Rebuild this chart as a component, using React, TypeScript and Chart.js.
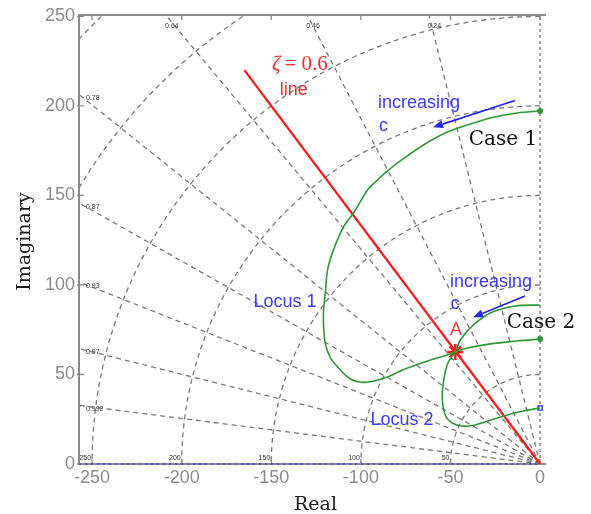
import React, { useEffect, useRef } from "react";
import { Chart, registerables } from "chart.js";

Chart.register(...registerables);

// ---- axes ----
const X_MIN = -257.3;
const X_MAX = 3.3;
const Y_MIN = 0;
const Y_MAX = 250.8;
const xTicks = [-250, -200, -150, -100, -50, 0];
const yTicks = [0, 50, 100, 150, 200, 250];

// ---- s-plane grid (damping ratios / natural frequencies) ----
const zetaValues = [0.24, 0.46, 0.64, 0.78, 0.87, 0.93, 0.97, 0.992];
const zetaLabels = ["0.24", "0.46", "0.64", "0.78", "0.87", "0.93", "0.97", "0.992"];
const wnValues = [50, 100, 150, 200, 250, 300, 350];
const wnLabels = ["50", "100", "150", "200", "250", "300", "350"];

// ---- Locus 1 (Case 1) ----
const case1Re = [0, -12.8, -27.8, -40.6, -51.8, -65.1, -75.9, -84.6, -90.7, -96.3, -104.1, -109.7, -115.3, -118.6, -119.7, -120.8, -120.8, -119.7, -116.9, -113.0, -107.5, -101.9, -94.7, -85.2, -78.0, -72.4, -61.2, -51.8, -47.3, -40.6, -27.8, -12.8, 0];
const case1Im = [197.2, 196.1, 193.3, 189.4, 185.4, 178.2, 170.8, 164.2, 158.7, 153.1, 140.2, 132.4, 119.6, 108.4, 97.2, 86.1, 76.5, 66.5, 59.2, 54.2, 48.6, 45.9, 45.9, 48.6, 52.0, 54.2, 58.1, 60.9, 62.6, 64.8, 67.1, 68.7, 69.8];

// ---- Locus 2 (Case 2) ----
const case2Re = [0, -13.9, -27.8, -37.3, -44.5, -47.3, -51.2, -53.5, -54.6, -52.9, -49.0, -43.4, -36.2, -23.9, -9.5, 0];
const case2Im = [88.8, 88.3, 84.4, 77.6, 69.3, 62.6, 57.0, 48.6, 37.4, 27.4, 22.9, 21.2, 21.8, 25.7, 29.6, 31.3];

// ---- zeta = 0.6 line and point A ----
const zetaLineRe = [-165, 0];
const zetaLineIm = [220, 0];
const pointARe = [-47.3];
const pointAIm = [62.6];

// ---- real-axis locus ----
const realAxisRe = [X_MIN, 0];
const realAxisIm = [0, 0];

// ---- annotations ----
const texts = [
  { t: "line", x: -137.4, y: 208.7, color: "#ff2a2a", font: "18px 'Liberation Sans'", align: "center" },
  { t: "increasing", x: -90.5, y: 201.5, color: "#3b3bff", font: "18px 'Liberation Sans'", align: "left" },
  { t: "c", x: -89.9, y: 188.6, color: "#3b3bff", font: "18px 'Liberation Sans'", align: "left" },
  { t: "Case 1", x: -20.7, y: 181.1, color: "#111111", font: "20px 'DejaVu Serif'", align: "center" },
  { t: "increasing", x: -50.3, y: 101.6, color: "#3b3bff", font: "18px 'Liberation Sans'", align: "left" },
  { t: "c", x: -47.5, y: 89.3, color: "#3b3bff", font: "18px 'Liberation Sans'", align: "center" },
  { t: "Case 2", x: 0.5, y: 78.7, color: "#111111", font: "20px 'DejaVu Serif'", align: "center" },
  { t: "A", x: -46.9, y: 74.8, color: "#ff3a3a", font: "18px 'Liberation Sans'", align: "center" },
  { t: "Locus 1", x: -142.4, y: 90.4, color: "#3b3bff", font: "18px 'Liberation Sans'", align: "center" },
  { t: "Locus 2", x: -77.1, y: 24.6, color: "#3b3bff", font: "18px 'Liberation Sans'", align: "center" },
];
const arrows = [
  { x1: -14, y1: 203.1, x2: -59.7, y2: 188.1 },
  { x1: -8.4, y1: 93.8, x2: -37.4, y2: 82.0 },
];
const zetaTextPos = { x: -149.6, y: 223.2 };

const GRID_COLOR = "#7a7a7a";
const AXIS_COLOR = "#8a8a8a";

const gridPlugin = {
  id: "sgrid",
  beforeDatasetsDraw(chart: any) {
    const { ctx, chartArea: a, scales } = chart;
    const xs = scales.x;
    const ys = scales.y;
    const X = (v: number) => xs.getPixelForValue(v);
    const Y = (v: number) => ys.getPixelForValue(v);
    ctx.save();
    ctx.beginPath();
    ctx.rect(a.left, a.top, a.right - a.left, a.bottom - a.top);
    ctx.clip();
    ctx.strokeStyle = GRID_COLOR;
    ctx.lineWidth = 1.3;
    ctx.setLineDash([5, 4]);
    const x0 = X(0);
    const y0 = Y(0);
    zetaValues.forEach((z) => {
      const th = Math.acos(z);
      const R = 450;
      ctx.beginPath();
      ctx.moveTo(x0, y0);
      ctx.lineTo(X(-R * Math.cos(th)), Y(R * Math.sin(th)));
      ctx.stroke();
    });
    wnValues.forEach((r) => {
      ctx.beginPath();
      for (let i = 0; i <= 180; i++) {
        const t = Math.PI / 2 + (i * Math.PI) / 360;
        const px = X(r * Math.cos(t));
        const py = Y(r * Math.sin(t));
        if (i === 0) ctx.moveTo(px, py);
        else ctx.lineTo(px, py);
      }
      ctx.stroke();
    });
    // imaginary axis
    ctx.setLineDash([3, 3]);
    ctx.beginPath();
    ctx.moveTo(x0, y0);
    ctx.lineTo(x0, a.top);
    ctx.stroke();
    ctx.restore();

    // small grid labels
    ctx.save();
    ctx.setLineDash([]);
    ctx.font = "7px 'Liberation Sans'";
    ctx.fillStyle = "#333333";
    ctx.textBaseline = "middle";
    zetaValues.forEach((z, i) => {
      const th = Math.acos(z);
      const yAtLeft = -X_MIN * Math.tan(th);
      if (yAtLeft < 245) {
        ctx.textAlign = "left";
        ctx.fillText(zetaLabels[i], a.left + 7, Y(yAtLeft) + 4);
      } else {
        const xAtTop = -250 / Math.tan(th);
        ctx.textAlign = "center";
        ctx.fillText(zetaLabels[i], X(xAtTop) + 5, a.top + 11);
      }
    });
    ctx.textAlign = "right";
    wnValues.forEach((w, i) => {
      if (-w >= X_MIN) ctx.fillText(wnLabels[i], X(-w) - 1, a.bottom - 6);
    });
    ctx.restore();

    // frame with inward ticks
    ctx.save();
    ctx.strokeStyle = AXIS_COLOR;
    ctx.lineWidth = 2;
    ctx.beginPath();
    ctx.moveTo(a.right, a.top);
    ctx.lineTo(a.left, a.top);
    ctx.lineTo(a.left, a.bottom);
    ctx.lineTo(a.right, a.bottom);
    ctx.stroke();
    ctx.lineWidth = 1.3;
    ctx.beginPath();
    xTicks.forEach((v) => {
      const px = X(v);
      ctx.moveTo(px, a.bottom);
      ctx.lineTo(px, a.bottom - 5);
      ctx.moveTo(px, a.top);
      ctx.lineTo(px, a.top + 5);
    });
    yTicks.forEach((v) => {
      const py = Y(v);
      ctx.moveTo(a.left - 2, py);
      ctx.lineTo(a.left + 5, py);
    });
    ctx.stroke();
    ctx.restore();
  },
  afterDatasetsDraw(chart: any) {
    const { ctx, chartArea: a, scales } = chart;
    const xs = scales.x;
    const ys = scales.y;
    const X = (v: number) => xs.getPixelForValue(v);
    const Y = (v: number) => ys.getPixelForValue(v);
    ctx.save();
    ctx.textBaseline = "middle";
    texts.forEach((tx) => {
      ctx.font = tx.font;
      ctx.fillStyle = tx.color;
      ctx.textAlign = tx.align;
      ctx.fillText(tx.t, X(tx.x), Y(tx.y));
    });
    // zeta = 0.6
    ctx.fillStyle = "#ff2a2a";
    ctx.textAlign = "left";
    ctx.font = "italic 21px 'Liberation Serif'";
    const zx = X(zetaTextPos.x);
    const zy = Y(zetaTextPos.y);
    ctx.fillText("\u03B6", zx, zy);
    const w = ctx.measureText("\u03B6").width;
    ctx.font = "21px 'Liberation Serif'";
    ctx.fillText("= 0.6", zx + w + 4, zy);

    // arrows
    ctx.strokeStyle = "#2323ff";
    ctx.fillStyle = "#2323ff";
    ctx.lineWidth = 1.6;
    arrows.forEach((ar) => {
      const x1 = X(ar.x1), y1 = Y(ar.y1), x2 = X(ar.x2), y2 = Y(ar.y2);
      const ang = Math.atan2(y2 - y1, x2 - x1);
      const L = 10, W = 4;
      const bx = x2 - L * Math.cos(ang), by = y2 - L * Math.sin(ang);
      ctx.beginPath();
      ctx.moveTo(x1, y1);
      ctx.lineTo(bx, by);
      ctx.stroke();
      ctx.beginPath();
      ctx.moveTo(x2, y2);
      ctx.lineTo(bx + W * Math.sin(ang), by - W * Math.cos(ang));
      ctx.lineTo(bx - W * Math.sin(ang), by + W * Math.cos(ang));
      ctx.closePath();
      ctx.fill();
    });

    // axis titles
    ctx.fillStyle = "#1a1a1a";
    ctx.font = "19px 'DejaVu Serif'";
    ctx.textAlign = "center";
    ctx.fillText("Real", (a.left + a.right) / 2 + 3, 505);
    ctx.save();
    ctx.translate(25, (a.top + a.bottom) / 2 + 2);
    ctx.rotate(-Math.PI / 2);
    ctx.fillText("Imaginary", 0, 0);
    ctx.restore();
    ctx.restore();
  },
};

const pts = (re: number[], im: number[]) => re.map((r, i) => ({ x: r, y: im[i] }));

export default function App() {
  const ref = useRef<HTMLCanvasElement | null>(null);
  useEffect(() => {
    if (!ref.current) return;
    const n1 = case1Re.length;
    const chart = new Chart(ref.current, {
      type: "scatter",
      data: {
        datasets: [
          {
            data: pts(realAxisRe, realAxisIm),
            showLine: true,
            borderColor: "#2a3cff",
            borderWidth: 1.6,
            borderDash: [2, 4],
            pointRadius: 0,
            clip: 4,
          } as any,
          {
            data: pts(case1Re, case1Im),
            showLine: true,
            borderColor: "#2e9a36",
            borderWidth: 1.6,
            tension: 0.3,
            pointRadius: case1Re.map((_, i) => (i === 0 || i === n1 - 1 ? 2.2 : 0)),
            pointBackgroundColor: "#2e9a36",
            pointBorderColor: "#2e9a36",
            clip: 4,
          },
          {
            data: pts(case2Re, case2Im),
            showLine: true,
            borderColor: "#2e9a36",
            borderWidth: 1.6,
            tension: 0.3,
            pointRadius: 0,
            clip: 4,
          },
          {
            data: pts([case2Re[case2Re.length - 1]], [case2Im[case2Im.length - 1]]),
            pointStyle: "rect",
            pointRadius: 3,
            pointBorderColor: "#1f2fff",
            pointBackgroundColor: "#ffffff",
            pointBorderWidth: 1.3,
            clip: 6,
          },
          {
            data: pts(zetaLineRe, zetaLineIm),
            showLine: true,
            borderColor: "#ff1a1a",
            borderWidth: 2.3,
            pointRadius: 0,
          },
          {
            data: pts(pointARe, pointAIm),
            pointStyle: "star",
            pointRadius: 8,
            pointBorderColor: "#ff1a1a",
            pointBorderWidth: 2.5,
            pointBackgroundColor: "#ff1a1a",
          },
        ],
      },
      options: {
        responsive: false,
        animation: false,
        devicePixelRatio: 1,
        events: [],
        layout: { padding: { left: 0, top: 15, right: 45, bottom: 0 } },
        plugins: { legend: { display: false }, tooltip: { enabled: false }, title: { display: false } },
        scales: {
          x: {
            type: "linear",
            min: X_MIN,
            max: X_MAX,
            grid: { display: false, drawTicks: false },
            border: { display: false },
            afterBuildTicks: (s: any) => {
              s.ticks = xTicks.map((v) => ({ value: v }));
            },
            afterFit: (s: any) => {
              s.height = 50;
            },
            ticks: {
              color: "#8c8c8c",
              font: { family: "'Liberation Sans'", size: 18 },
              padding: 3,
              maxRotation: 0,
              autoSkip: false,
            },
          },
          y: {
            type: "linear",
            min: Y_MIN,
            max: Y_MAX,
            grid: { display: false, drawTicks: false },
            border: { display: false },
            afterBuildTicks: (s: any) => {
              s.ticks = yTicks.map((v) => ({ value: v }));
            },
            afterFit: (s: any) => {
              s.width = 79;
            },
            ticks: {
              color: "#8c8c8c",
              font: { family: "'Liberation Sans'", size: 18 },
              padding: 4,
              autoSkip: false,
            },
          },
        },
      },
      plugins: [gridPlugin],
    } as any);
    return () => chart.destroy();
  }, []);
  return (
    <div style={{ position: "fixed", left: 0, top: 0, width: 591, height: 514, background: "#ffffff" }}>
      <canvas ref={ref} width={591} height={514} style={{ display: "block", width: 591, height: 514 }} />
    </div>
  );
}
